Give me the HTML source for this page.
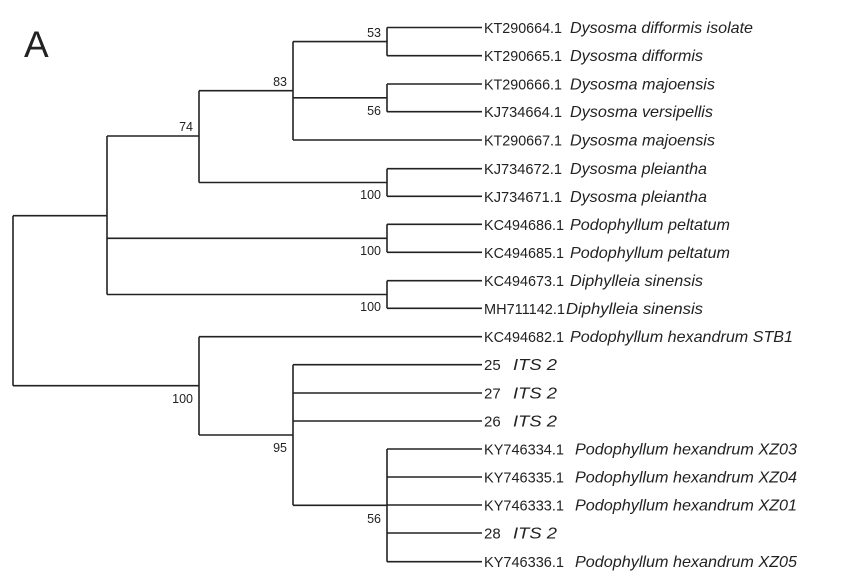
<!DOCTYPE html>
<html><head><meta charset="utf-8"><style>
html,body{margin:0;padding:0;background:#fff;}
svg{display:block;font-family:"Liberation Sans",Arial,sans-serif;}
</style></head><body>
<svg width="856" height="576" viewBox="0 0 856 576" xmlns="http://www.w3.org/2000/svg">
<rect width="856" height="576" fill="#fff"/>
<text x="24" y="57" font-size="37" fill="#222">A</text>
<g stroke="#222" stroke-width="1.6" fill="none">
<path d="M387 27.5H482M387 55.7H482M387 84H482M387 111.7H482M293 140H482M387 168.7H482M387 196.3H482M387 224.3H482M387 252.3H482M387 280.7H482M387 308.3H482"/>
<path d="M199 336.7H482M293 364.7H482M293 393H482M293 421H482M387 449H482M387 477H482M387 505H482M387 533H482M387 561.7H482"/>
<path d="M387 27.5V55.7M293 41.6H387M387 84V111.7M293 97.8H387M293 41.6V140"/>
<path d="M387 168.7V196.3M199 182.5H387M199 90.7H293M199 90.7V182.5"/>
<path d="M387 224.3V252.3M107 238.3H387M387 280.7V308.3M107 294.5H387M107 136H199M107 136V294.5"/>
<path d="M13 215.7H107M13 215.7V385.7M13 385.7H199M199 336.7V435M199 435H293M293 364.7V505.3"/>
<path d="M293 505.3H387M387 449V561.7"/>
</g>
<g font-size="12.5" fill="#222" text-anchor="end">
<text x="381" y="37">53</text>
<text x="287" y="86">83</text>
<text x="381" y="115">56</text>
<text x="193" y="131">74</text>
<text x="381" y="199">100</text>
<text x="381" y="255">100</text>
<text x="381" y="311">100</text>
<text x="193" y="403">100</text>
<text x="287" y="452">95</text>
<text x="381" y="523">56</text>
</g>
<g font-size="15" fill="#222">
<text x="484" y="33" textLength="78" lengthAdjust="spacingAndGlyphs">KT290664.1</text>
<text x="484" y="61.2" textLength="78" lengthAdjust="spacingAndGlyphs">KT290665.1</text>
<text x="484" y="89.5" textLength="78" lengthAdjust="spacingAndGlyphs">KT290666.1</text>
<text x="484" y="117.2" textLength="78" lengthAdjust="spacingAndGlyphs">KJ734664.1</text>
<text x="484" y="145.5" textLength="78" lengthAdjust="spacingAndGlyphs">KT290667.1</text>
<text x="484" y="174.2" textLength="78" lengthAdjust="spacingAndGlyphs">KJ734672.1</text>
<text x="484" y="201.8" textLength="78" lengthAdjust="spacingAndGlyphs">KJ734671.1</text>
<text x="484" y="229.8" textLength="80" lengthAdjust="spacingAndGlyphs">KC494686.1</text>
<text x="484" y="257.8" textLength="80" lengthAdjust="spacingAndGlyphs">KC494685.1</text>
<text x="484" y="286.2" textLength="80" lengthAdjust="spacingAndGlyphs">KC494673.1</text>
<text x="484" y="313.8" textLength="81" lengthAdjust="spacingAndGlyphs">MH711142.1</text>
<text x="484" y="342.2" textLength="80" lengthAdjust="spacingAndGlyphs">KC494682.1</text>
<text x="484" y="370.2">25</text>
<text x="484" y="398.5">27</text>
<text x="484" y="426.5">26</text>
<text x="484" y="454.5" textLength="80" lengthAdjust="spacingAndGlyphs">KY746334.1</text>
<text x="484" y="482.5" textLength="80" lengthAdjust="spacingAndGlyphs">KY746335.1</text>
<text x="484" y="510.5" textLength="80" lengthAdjust="spacingAndGlyphs">KY746333.1</text>
<text x="484" y="538.5">28</text>
<text x="484" y="567.2" textLength="80" lengthAdjust="spacingAndGlyphs">KY746336.1</text>
</g>
<g font-size="16" fill="#222" font-style="italic">
<text x="570" y="33" textLength="183" lengthAdjust="spacingAndGlyphs">Dysosma difformis isolate</text>
<text x="570" y="61.2" textLength="133" lengthAdjust="spacingAndGlyphs">Dysosma difformis</text>
<text x="570" y="89.5" textLength="145" lengthAdjust="spacingAndGlyphs">Dysosma majoensis</text>
<text x="570" y="117.2" textLength="143" lengthAdjust="spacingAndGlyphs">Dysosma versipellis</text>
<text x="570" y="145.5" textLength="145" lengthAdjust="spacingAndGlyphs">Dysosma majoensis</text>
<text x="570" y="174.2" textLength="137" lengthAdjust="spacingAndGlyphs">Dysosma pleiantha</text>
<text x="570" y="201.8" textLength="137" lengthAdjust="spacingAndGlyphs">Dysosma pleiantha</text>
<text x="570" y="229.8" textLength="160" lengthAdjust="spacingAndGlyphs">Podophyllum peltatum</text>
<text x="570" y="257.8" textLength="160" lengthAdjust="spacingAndGlyphs">Podophyllum peltatum</text>
<text x="570" y="286.2" textLength="133" lengthAdjust="spacingAndGlyphs">Diphylleia sinensis</text>
<text x="566" y="313.8" textLength="137" lengthAdjust="spacingAndGlyphs">Diphylleia sinensis</text>
<text x="570" y="342.2" textLength="223" lengthAdjust="spacingAndGlyphs">Podophyllum hexandrum STB1</text>
<text x="513" y="370.2" textLength="44" lengthAdjust="spacingAndGlyphs">ITS 2</text>
<text x="513" y="398.5" textLength="44" lengthAdjust="spacingAndGlyphs">ITS 2</text>
<text x="513" y="426.5" textLength="44" lengthAdjust="spacingAndGlyphs">ITS 2</text>
<text x="575" y="454.5" textLength="222" lengthAdjust="spacingAndGlyphs">Podophyllum hexandrum XZ03</text>
<text x="575" y="482.5" textLength="222" lengthAdjust="spacingAndGlyphs">Podophyllum hexandrum XZ04</text>
<text x="575" y="510.5" textLength="222" lengthAdjust="spacingAndGlyphs">Podophyllum hexandrum XZ01</text>
<text x="513" y="538.5" textLength="44" lengthAdjust="spacingAndGlyphs">ITS 2</text>
<text x="575" y="567.2" textLength="222" lengthAdjust="spacingAndGlyphs">Podophyllum hexandrum XZ05</text>
</g>
</svg>
</body></html>
